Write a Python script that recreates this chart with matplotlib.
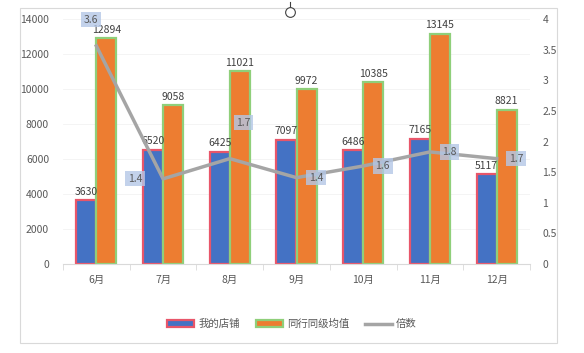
import numpy as np
import matplotlib.pyplot as plt
from matplotlib.patches import Rectangle

plt.rcParams['font.family'] = ['Noto Sans CJK SC', 'DejaVu Sans']

months = ['6月', '7月', '8月', '9月', '10月', '11月', '12月']
my_store = [3630, 6520, 6425, 7097, 6486, 7165, 5117]
peer_avg = [12894, 9058, 11021, 9972, 10385, 13145, 8821]
ratio = [3.56, 1.39, 1.72, 1.41, 1.60, 1.83, 1.72]

# label offsets (pixels) for the ratio boxes
ratio_off = [(-4, 19), (-20, 0), (10, 26), (14, 0), (14, 0), (14, 0), (14, 0)]

fig = plt.figure(figsize=(5.84, 3.53), dpi=100)
fig.patches.append(Rectangle((20 / 584, 1 - 343 / 353), 537 / 584, 335 / 353,
                             transform=fig.transFigure, fill=False,
                             edgecolor='#d9d9d9', linewidth=0.8))

ax = fig.add_axes([63 / 584, 1 - 264 / 353, 467 / 584, 245 / 353])
ax2 = ax.twinx()

x = np.arange(len(months))
w = 0.3
txt = '#404040'
b1 = ax.bar(x - w / 2, my_store, w, color='#4472c4', edgecolor='#e8566a',
            linewidth=1.6, label='我的店铺', zorder=2)
b2 = ax.bar(x + w / 2, peer_avg, w, color='#ed7d31', edgecolor='#8fcf7a',
            linewidth=1.6, label='同行同级均值', zorder=2)
for rect, v in zip(b1, my_store):
    ax.text(rect.get_x() + rect.get_width() / 2, v + 200, str(v),
            ha='center', va='bottom', fontsize=7.5, color=txt, zorder=5)
for rect, v in zip(b2, peer_avg):
    ax.text(rect.get_x() + rect.get_width() / 2, v + 200, str(v),
            ha='center', va='bottom', fontsize=7.5, color=txt, zorder=5)

ax.set_xlim(-0.5, len(months) - 0.5)
ax.set_ylim(0, 14000)
ax.set_yticks(np.arange(0, 14001, 2000))
ax.set_xticks(x)
ax.set_xticklabels(months)
ax.set_xticks(np.arange(-0.5, len(months)), minor=True)
ax.tick_params(axis='x', which='major', length=0, pad=8)
ax.tick_params(axis='x', which='minor', length=4, color='#d9d9d9')
ax.tick_params(axis='y', length=0, pad=10)
ax.tick_params(colors='#595959', labelsize=7.5)
ax.grid(axis='y', color='#f3f3f3', linewidth=0.6, zorder=0)
for s in ['top', 'left', 'right']:
    ax.spines[s].set_visible(False)
ax.spines['bottom'].set_color('#d9d9d9')

ln, = ax2.plot(x, ratio, color='#a5a5a5', linewidth=2.5, label='倍数', zorder=3)
ax2.set_ylim(0, 4)
ax2.set_yticks(np.arange(0, 4.01, 0.5))
ax2.set_yticklabels(['0', '0.5', '1', '1.5', '2', '2.5', '3', '3.5', '4'])
ax2.tick_params(axis='y', length=0, pad=9, colors='#595959', labelsize=7.5)
for s in ax2.spines.values():
    s.set_visible(False)
for xi, r, off in zip(x, ratio, ratio_off):
    ax2.annotate(f'{r:.1f}', (xi, r), xytext=off, textcoords='offset points',
                 ha='center', va='center', fontsize=7.5, color='#595959',
                 bbox=dict(boxstyle='square,pad=0.25', fc='#b4c7e7',
                           ec='none', alpha=0.8), zorder=6,
                 annotation_clip=False)

fig.legend(handles=[b1, b2, ln], loc='center', bbox_to_anchor=(0.5, 1 - 324 / 353),
           ncol=3, frameon=False, fontsize=7.5, labelcolor='#595959',
           handlelength=2.6, handleheight=0.6, columnspacing=1.5, handletextpad=0.4)

# small handle circle at top
fig.add_artist(plt.Line2D([290 / 584, 290 / 584], [1 - 2 / 353, 1 - 8 / 353],
                          color='#404040', linewidth=0.8))
fig.add_artist(plt.Line2D([290 / 584], [1 - 12 / 353], marker='o', markersize=7,
                          markerfacecolor='white', markeredgecolor='#404040',
                          markeredgewidth=0.8))

fig.savefig('out.png', dpi=100)
